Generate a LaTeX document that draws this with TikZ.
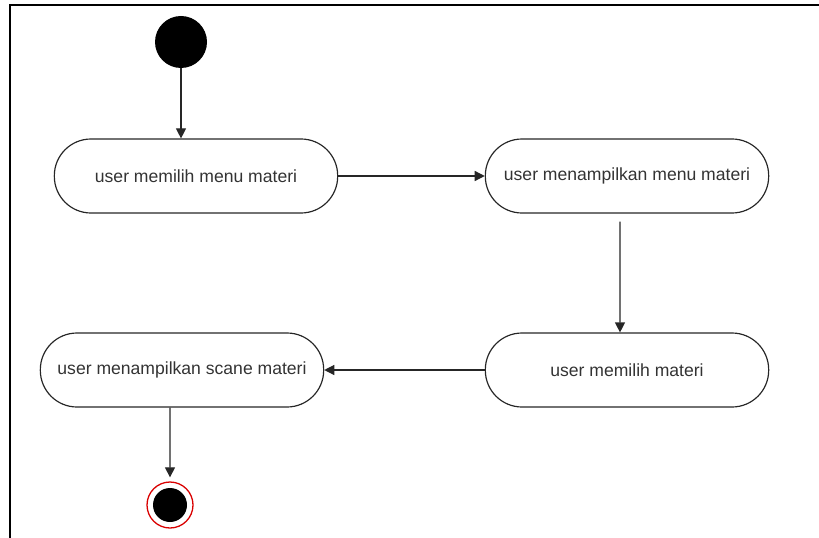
\documentclass[tikz,border=0pt]{standalone}
\usepackage{fontspec}
\setmainfont{Liberation Sans}
\usetikzlibrary{arrows.meta}

\begin{document}
\begin{tikzpicture}[x=0.03cm,y=-0.03cm]
\tikzset{activite/.style={draw=black!85, rounded corners=1.1cm, minimum width=8.5cm, minimum height=2.22cm, line width=1pt, text=black!80, font=\fontsize{15}{18}\selectfont},
fleche/.style={-{Triangle[length=0.3cm,width=0.3cm]}, line width=1pt, draw=black!85}}
\useasboundingbox (0,0) rectangle (819,538);
\draw[line width=1.1pt] (10,538) -- (10,5) -- (819,5);
\node[circle, fill=black, minimum size=1.56cm, inner sep=0pt] (D) at (181,42) {};
\node[activite] (A1) at (196,176) {user memilih menu materi};
\node[activite] (A2) at (627,176) {user menampilkan menu materi};
\node[activite] (A3) at (627,370) {user memilih materi};
\node[activite] (A4) at (182,370) {user menampilkan scane materi};
\node[circle, draw=red!85!black, line width=1.1pt, minimum size=1.38cm, inner sep=0pt] (F) at (170,505) {};
\node[circle, fill=black, minimum size=1.02cm, inner sep=0pt] (F2) at (F) {};
\draw[fleche] (D.south) -- (D.south |- A1.north);
\draw[fleche] (A1) -- (A2);
\draw[fleche] ([shift={(-7,8)}]A2.south) -- ([xshift=-0.21cm]A3.north);
\draw[fleche] (A3) -- (A4);
\draw[fleche] ([xshift=-0.36cm]A4.south) -- ([yshift=0.12cm]F.north);
\end{tikzpicture}
\end{document}
